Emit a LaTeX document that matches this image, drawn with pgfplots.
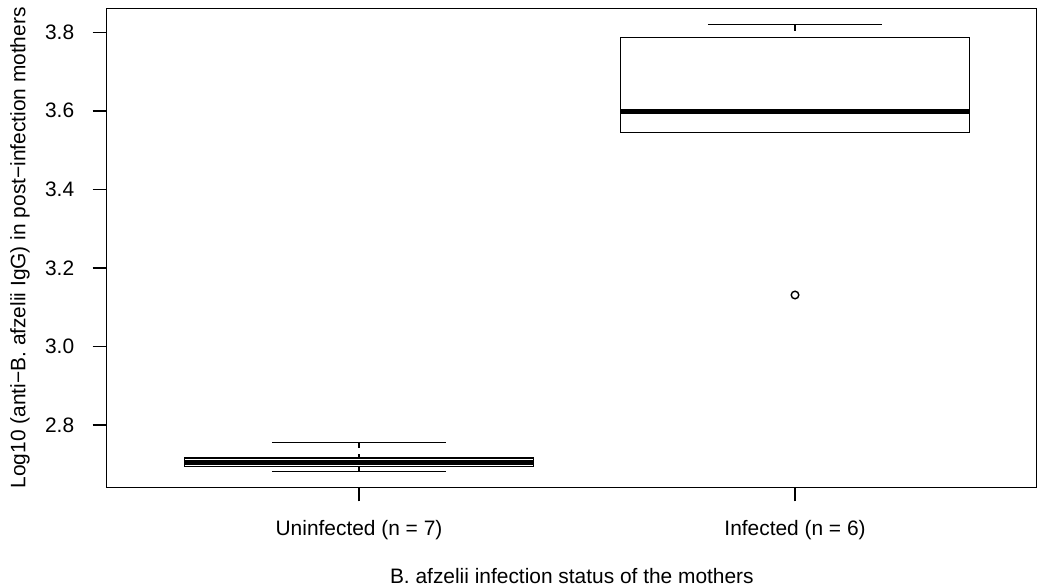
\documentclass[border=0pt]{standalone}
\usepackage{pgfplots}
\pgfplotsset{compat=1.18}
\usepgfplotslibrary{statistics}
\usetikzlibrary{calc}
\usepackage{fontspec}
\setmainfont{Liberation Sans}
\begin{document}
\begin{tikzpicture}
\begin{axis}[
  scale only axis, width=930.3pt, height=479pt,
  xmin=0.4213, xmax=2.555, ymin=2.6414, ymax=3.861,
  xtick={1,2}, xticklabels={Uninfected (n = 7), Infected (n = 6)},
  ytick={2.8,3.0,3.2,3.4,3.6,3.8},
  yticklabel={\pgfmathprintnumber[fixed,fixed zerofill,precision=1]{\tick}},
  /pgf/number format/assume math mode=true,
  font=\fontsize{20.9}{25}\selectfont,
  tick align=outside, tick pos=left, major tick length=14pt,
  tick style={line width=1.4pt, black},
  axis line style={line width=1.4pt},
  every x tick label/.style={anchor=center, yshift=-29pt},
  every y tick label/.style={anchor=east, xshift=-15pt},
  ylabel={Log10 (anti−B. afzelii IgG) in post−infection mothers},
  xlabel={B. afzelii infection status of the mothers},
  every axis y label/.style={at={(axis description cs:-0.0932,0.5)}, rotate=90, anchor=center},
  every axis x label/.style={at={(axis description cs:0.5,-0.1852)}, anchor=center},
  boxplot/draw direction=y,
  boxplot/box extend=0.8,
  boxplot/whisker extend=0.4,
  boxplot/draw/lower whisker/.code={%
    \draw[line width=1.4pt, dash pattern=on 6pt off 6pt]
      (boxplot box cs:\pgfplotsboxplotvalue{lower whisker},0.5) --
      (boxplot box cs:\pgfplotsboxplotvalue{lower quartile},0.5);
    \draw[line width=1.4pt]
      (boxplot whisker cs:\pgfplotsboxplotvalue{lower whisker},0) --
      (boxplot whisker cs:\pgfplotsboxplotvalue{lower whisker},1);
  },
  boxplot/draw/upper whisker/.code={%
    \draw[line width=1.4pt, dash pattern=on 6pt off 6pt]
      (boxplot box cs:\pgfplotsboxplotvalue{upper whisker},0.5) --
      (boxplot box cs:\pgfplotsboxplotvalue{upper quartile},0.5);
    \draw[line width=1.4pt]
      (boxplot whisker cs:\pgfplotsboxplotvalue{upper whisker},0) --
      (boxplot whisker cs:\pgfplotsboxplotvalue{upper whisker},1);
  },
  boxplot/every box/.style={draw=black, line width=1.4pt},
  boxplot/every median/.style={draw=black, line width=4.5pt},
]
\addplot+[black, boxplot prepared={draw position=1,
  lower whisker=2.681, lower quartile=2.694, median=2.705,
  upper quartile=2.716, upper whisker=2.756}]
  coordinates {};
\addplot+[black, mark=o, mark size=3.8pt, mark options={line width=1.4pt, solid},
  boxplot prepared={draw position=2,
  lower whisker=3.545, lower quartile=3.545, median=3.598,
  upper quartile=3.787, upper whisker=3.819}]
  table[row sep=\\, y index=0] {y\\ 3.131\\};
\coordinate (bl) at (rel axis cs:0,0);
\coordinate (tr) at (rel axis cs:1,1);
\end{axis}
\pgfresetboundingbox
\path[use as bounding box] ($(bl)+(-106.7pt,-100.7pt)$) rectangle ($(tr)+(0pt,8.3pt)$);
\end{tikzpicture}
\end{document}
